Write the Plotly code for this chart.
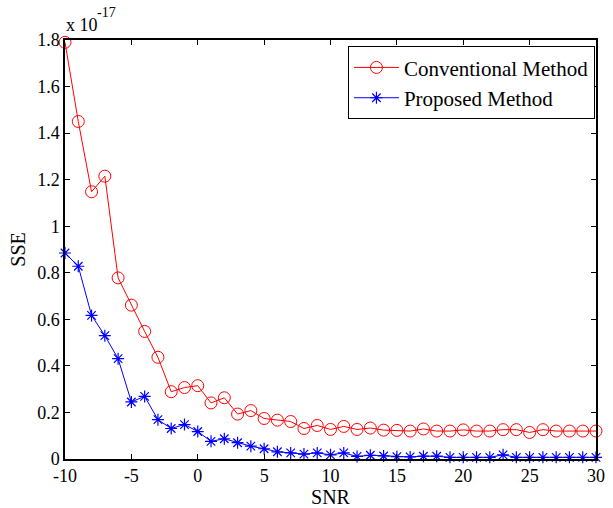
import plotly.graph_objects as go

# SNR sweep (dB)
snr = list(range(-10, 31))

# Sum of squared errors, in units of 1e-17
sse_conventional = [
    1.79, 1.45, 1.148, 1.215, 0.778, 0.661, 0.548, 0.437, 0.289, 0.307,
    0.315, 0.241, 0.263, 0.193, 0.208, 0.174, 0.167, 0.161, 0.131, 0.144,
    0.127, 0.140, 0.127, 0.133, 0.124, 0.123, 0.120, 0.129, 0.120, 0.120,
    0.125, 0.120, 0.120, 0.126, 0.126, 0.114, 0.126, 0.120, 0.120, 0.120,
    0.120,
]
sse_proposed = [
    0.885, 0.828, 0.617, 0.530, 0.431, 0.245, 0.269, 0.169, 0.131, 0.148,
    0.118, 0.076, 0.087, 0.070, 0.055, 0.044, 0.031, 0.026, 0.021, 0.026,
    0.018, 0.026, 0.011, 0.016, 0.013, 0.010, 0.009, 0.012, 0.012, 0.007,
    0.007, 0.007, 0.007, 0.018, 0.007, 0.007, 0.007, 0.007, 0.007, 0.007,
    0.007,
]

x_ticks = [-10, -5, 0, 5, 10, 15, 20, 25, 30]
x_tick_text = ["-10", "-5", "0", "5", "10", "15", "20", "25", "30"]
y_ticks = [0, 0.2, 0.4, 0.6, 0.8, 1.0, 1.2, 1.4, 1.6, 1.8]
y_tick_text = ["0", "0.2", "0.4", "0.6", "0.8", "1", "1.2", "1.4", "1.6", "1.8"]

FONT = "Liberation Serif, Times New Roman, serif"

fig = go.Figure()
fig.add_trace(go.Scatter(
    x=snr, y=sse_conventional, mode="lines+markers", name="Conventional Method",
    line=dict(color="#ff0000", width=1),
    marker=dict(symbol="circle-open", size=12, color="#ff0000", line=dict(width=1)),
    cliponaxis=False,
))
fig.add_trace(go.Scatter(
    x=snr, y=sse_proposed, mode="lines+markers", name="Proposed Method",
    line=dict(color="#0000ff", width=1),
    marker=dict(symbol="asterisk-open", size=10, color="#0000ff", line=dict(width=1.2, color="#0000ff")),
    cliponaxis=False,
))

axis_common = dict(
    showgrid=False, zeroline=False, showline=True, linecolor="black", linewidth=1.5,
    mirror="allticks", ticks="inside", ticklen=5, tickcolor="black", tickwidth=1,
    tickfont=dict(family=FONT, size=18, color="black"),
)

fig.update_layout(
    width=613, height=508,
    margin=dict(l=65, r=8, t=40, b=47),
    paper_bgcolor="white", plot_bgcolor="white",
    font=dict(family=FONT, size=18, color="black"),
    xaxis=dict(range=[-10, 30], tickvals=x_ticks, ticktext=x_tick_text,
               title=dict(text="SNR", standoff=0, font=dict(family=FONT, size=20)),
               **axis_common),
    yaxis=dict(range=[0, 1.8], tickvals=y_ticks, ticktext=y_tick_text,
               title=dict(text="SSE", standoff=6, font=dict(family=FONT, size=20)),
               **axis_common),
    legend=dict(x=0.998, y=0.985, xanchor="right", yanchor="top",
                bgcolor="white", bordercolor="black", borderwidth=1,
                font=dict(family=FONT, size=21), itemwidth=45,
                tracegroupgap=0),
    showlegend=True,
)

# Axis exponent, placed above the top-left corner of the axes
fig.add_annotation(
    x=0, y=1, xref="paper", yref="paper", xanchor="left", yanchor="bottom",
    text="x 10", showarrow=False, yshift=3, xshift=-1,
    font=dict(family=FONT, size=18, color="black"),
)
fig.add_annotation(
    x=0, y=1, xref="paper", yref="paper", xanchor="left", yanchor="middle",
    text="-17", showarrow=False, yshift=28, xshift=30,
    font=dict(family=FONT, size=14, color="black"),
)

fig.write_html("out.html")
